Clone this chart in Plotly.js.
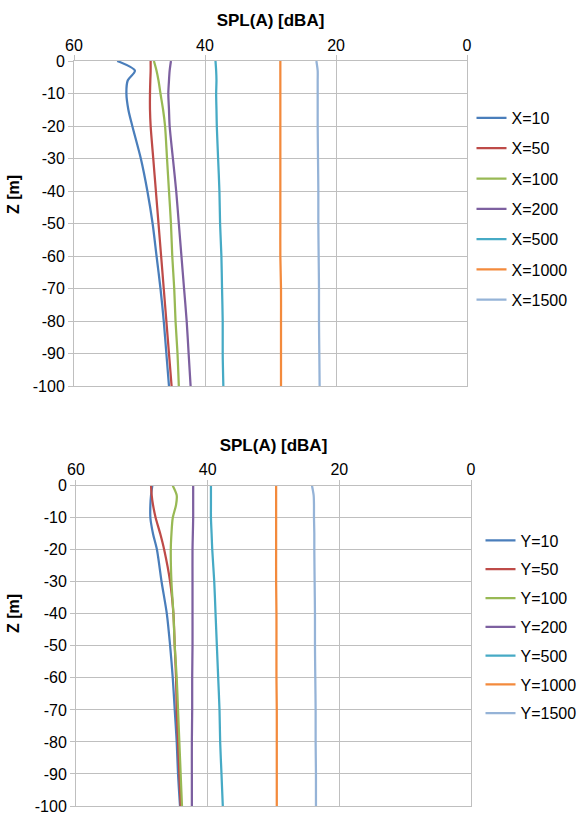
<!DOCTYPE html>
<html>
<head>
<meta charset="utf-8">
<script src="https://cdn.plot.ly/plotly-3.0.1.min.js"></script>
<style>html,body{margin:0;padding:0;background:#fff;}#chart{width:583px;height:816px;}</style>
</head>
<body>
<div id="chart"></div>
<script>
// Depth samples (m)
const zDepth = [0, -3, -6, -10, -15, -20, -30, -40, -50, -60, -70, -80, -90, -100];

// Top chart: SPL(A) [dBA] along X
const xNames = ['X=10', 'X=50', 'X=100', 'X=200', 'X=500', 'X=1000', 'X=1500'];
const splX10   = [53.4, 50.7, 51.8, 52.0, 51.7, 51.1, 49.8, 48.8, 48.0, 47.4, 46.8, 46.3, 45.9, 45.5];
const splX50   = [48.3, 48.3, 48.35, 48.4, 48.4, 48.3, 47.9, 47.5, 47.1, 46.7, 46.3, 45.9, 45.5, 45.1];
const splX100  = [47.8, 47.4, 47.1, 46.8, 46.4, 46.1, 45.8, 45.5, 45.2, 45.0, 44.7, 44.5, 44.2, 44.0];
const splX200  = [45.2, 45.4, 45.5, 45.6, 45.5, 45.4, 44.9, 44.4, 44.0, 43.6, 43.2, 42.8, 42.5, 42.2];
const splX500  = [38.4, 38.3, 38.25, 38.3, 38.25, 38.2, 38.0, 37.8, 37.7, 37.5, 37.4, 37.3, 37.3, 37.2];
const splX1000 = [28.5, 28.5, 28.5, 28.5, 28.5, 28.5, 28.5, 28.5, 28.5, 28.5, 28.4, 28.4, 28.4, 28.4];
const splX1500 = [23.0, 22.8, 22.8, 22.8, 22.8, 22.8, 22.75, 22.7, 22.7, 22.65, 22.6, 22.6, 22.55, 22.5];

// Bottom chart: SPL(A) [dBA] along Y
const yNames = ['Y=10', 'Y=50', 'Y=100', 'Y=200', 'Y=500', 'Y=1000', 'Y=1500'];
const splY10   = [48.4, 48.6, 48.7, 48.7, 48.3, 47.7, 47.0, 46.2, 45.7, 45.3, 45.0, 44.7, 44.5, 44.2];
const splY50   = [48.6, 48.5, 48.3, 47.9, 47.2, 46.6, 45.7, 45.2, 45.0, 44.8, 44.7, 44.5, 44.3, 44.1];
const splY100  = [45.3, 44.7, 44.8, 45.3, 45.5, 45.6, 45.5, 45.2, 45.0, 44.7, 44.5, 44.3, 44.1, 43.9];
const splY200  = [42.2, 42.2, 42.2, 42.2, 42.25, 42.3, 42.3, 42.3, 42.3, 42.35, 42.35, 42.4, 42.4, 42.4];
const splY500  = [39.5, 39.5, 39.5, 39.5, 39.4, 39.3, 39.0, 38.8, 38.6, 38.4, 38.2, 38.1, 37.9, 37.7];
const splY1000 = [29.6, 29.6, 29.6, 29.6, 29.6, 29.6, 29.6, 29.55, 29.55, 29.55, 29.5, 29.5, 29.5, 29.5];
const splY1500 = [24.15, 23.9, 23.85, 23.85, 23.8, 23.8, 23.75, 23.7, 23.7, 23.65, 23.6, 23.6, 23.55, 23.55];

// Tick labels
const xTickVals = [60, 40, 20, 0];
const xTickText = ['60', '40', '20', '0'];
const zTickVals = [0, -10, -20, -30, -40, -50, -60, -70, -80, -90, -100];
const zTickText = ['0', '-10', '-20', '-30', '-40', '-50', '-60', '-70', '-80', '-90', '-100'];

const colors = ['#4A7EBB', '#BE4B48', '#98B954', '#7D60A0', '#46AAC5', '#F38A3C', '#95B3D7'];
const FONT = 'Liberation Sans, Arial, sans-serif';

const xSeries = [splX10, splX50, splX100, splX200, splX500, splX1000, splX1500];
const ySeries = [splY10, splY50, splY100, splY200, splY500, splY1000, splY1500];

const traces = [];
xSeries.forEach((s, i) => traces.push({
  x: s, y: zDepth, name: xNames[i], type: 'scatter', mode: 'lines',
  line: {color: colors[i], width: 2.25, shape: 'spline', smoothing: 0.8},
  xaxis: 'x', yaxis: 'y', legend: 'legend', legendgroup: 'a' + i, hoverinfo: 'x+y+name'
}));
ySeries.forEach((s, i) => traces.push({
  x: s, y: zDepth, name: yNames[i], type: 'scatter', mode: 'lines',
  line: {color: colors[i], width: 2.25, shape: 'spline', smoothing: 0.8},
  xaxis: 'x2', yaxis: 'y2', legend: 'legend2', legendgroup: 'b' + i, hoverinfo: 'x+y+name'
}));

const PH = 816 - 61 - 10; // plotting height in px
const grid = '#BFBFBF';
function xAx(domain, anchor) {
  return {
    domain: domain, anchor: anchor, side: 'top', range: [60, 0],
    tickvals: xTickVals, ticktext: xTickText,
    ticks: 'outside', ticklen: 5, tickcolor: grid, tickwidth: 1,
    ticklabelstandoff: -2,
    showgrid: true, gridcolor: grid, gridwidth: 1, zeroline: false,
    showline: true, linecolor: grid, linewidth: 1, mirror: true,
    tickfont: {family: FONT, size: 16, color: '#000'},
    title: {text: '<b>SPL(A) [dBA]</b>', font: {family: FONT, size: 17, color: '#000'}, standoff: 5},
    fixedrange: true
  };
}
function yAx(domain, anchor) {
  return {
    domain: domain, anchor: anchor, range: [-100, 0],
    tickvals: zTickVals, ticktext: zTickText,
    ticks: 'outside', ticklen: 5, tickcolor: grid, tickwidth: 1,
    ticklabeloverflow: 'allow',
    showgrid: true, gridcolor: grid, gridwidth: 1, zeroline: false,
    showline: true, linecolor: grid, linewidth: 1, mirror: true,
    tickfont: {family: FONT, size: 16, color: '#000'},
    fixedrange: true
  };
}

const layout = {
  width: 583, height: 816,
  margin: {l: 74, r: 112, t: 61, b: 10},
  paper_bgcolor: '#fff', plot_bgcolor: '#fff',
  font: {family: FONT, size: 16, color: '#000'},
  showlegend: true,
  xaxis: xAx([0, 0.990], 'y'),
  yaxis: yAx([1 - 325 / PH, 1], 'x'),
  xaxis2: xAx([0.005, 1], 'y2'),
  yaxis2: yAx([0, 1 - (485.7 - 61) / PH], 'x2'),
  legend: {
    xref: 'container', yref: 'container', x: 471.5 / 583, y: 1 - 101 / 816,
    xanchor: 'left', yanchor: 'top', traceorder: 'grouped', tracegroupgap: 6.5,
    font: {family: FONT, size: 16, color: '#000'}, bgcolor: 'rgba(0,0,0,0)', borderwidth: 0
  },
  legend2: {
    xref: 'container', yref: 'container', x: 480.5 / 583, y: 1 - 523.5 / 816,
    xanchor: 'left', yanchor: 'top', traceorder: 'grouped', tracegroupgap: 5,
    font: {family: FONT, size: 16, color: '#000'}, bgcolor: 'rgba(0,0,0,0)', borderwidth: 0
  },
  annotations: [
    {text: '<b>Z [m]</b>', xref: 'paper', yref: 'paper', x: 0, y: 1 - (195 - 61) / PH,
     xanchor: 'center', yanchor: 'middle',
     xshift: -61, textangle: -90, showarrow: false, font: {family: FONT, size: 16, color: '#000'}},
    {text: '<b>Z [m]</b>', xref: 'paper', yref: 'paper', x: 0, y: 1 - (614 - 61) / PH,
     xanchor: 'center', yanchor: 'middle',
     xshift: -61, textangle: -90, showarrow: false, font: {family: FONT, size: 16, color: '#000'}}
  ]
};

Plotly.newPlot('chart', traces, layout, {displayModeBar: false, staticPlot: false});
</script>
</body>
</html>
